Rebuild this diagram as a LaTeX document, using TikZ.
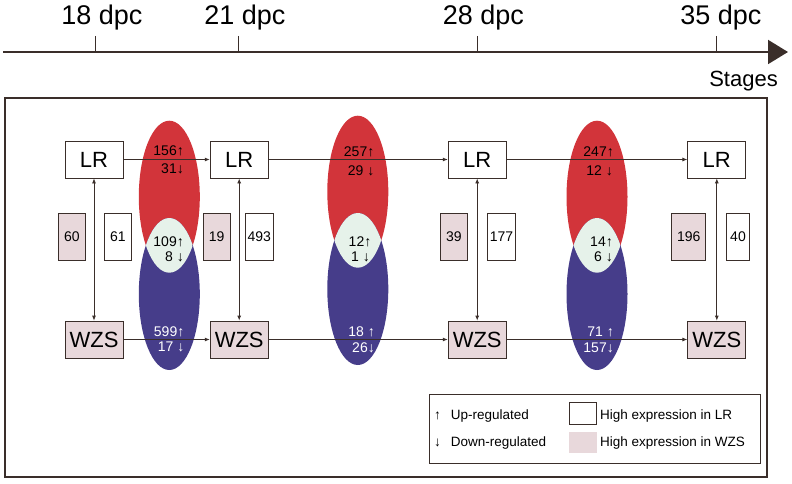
\documentclass[tikz,border=0pt]{standalone}
\usepackage{fontspec}
\setmainfont{Liberation Sans}
\usetikzlibrary{arrows.meta}
\definecolor{lc}{HTML}{3A2E2A}
\definecolor{ered}{HTML}{D2343A}
\definecolor{eblue}{HTML}{463D8A}
\definecolor{elens}{HTML}{E6F2EA}
\definecolor{pinkc}{HTML}{E8D8DB}
\newcommand{\myfs}[1]{\fontsize{#1}{#1}\selectfont}
\begin{document}
\begin{tikzpicture}[x=1pt,y=-1pt,
  stagebox/.style={draw=lc, line width=0.8pt, minimum width=58pt, minimum height=37pt, inner sep=0pt, font=\myfs{22}},
  lrbox/.style={stagebox, fill=white},
  wzsbox/.style={stagebox, fill=pinkc},
  numbox/.style={draw=lc, line width=0.8pt, minimum height=47pt, inner sep=0pt, font=\myfs{14}},
  lrnum/.style={numbox, fill=white},
  wzsnum/.style={numbox, fill=pinkc},
  link/.style={draw=lc, line width=0.8pt, -{Latex[length=5pt,width=4pt]}},
  biline/.style={draw=lc, line width=0.8pt, {Latex[length=5pt,width=4pt]}-{Latex[length=5pt,width=4pt]}},
  cnt/.style={anchor=base east, inner sep=0pt, font=\myfs{14}},
  cntw/.style={cnt, text=white},
  tick/.style={draw=lc, line width=1.3pt},
  dpc/.style={anchor=base, inner sep=0pt, font=\myfs{27}},
  legtxt/.style={anchor=base west, inner sep=0pt, font=\myfs{13.5}},
  ell/.style={x radius=30.5pt, y radius=76pt}
]
\useasboundingbox (0,0) rectangle (792,484);

% timeline
\coordinate (ax0) at (3,52);
\coordinate (ax1) at (788,52);
\draw[draw=lc, line width=2pt, -{Triangle[length=20pt,width=24pt]}] (ax0) -- (ax1);
\foreach \x in {95.3,238.7,477.3,716.7} \draw[tick] (\x,36) -- (\x,52);
\node[dpc] (d18) at (102,25) {18 dpc};
\node[dpc] (d21) at (245,25) {21 dpc};
\node[dpc] (d28) at (483.3,25) {28 dpc};
\node[dpc] (d35) at (720.8,25) {35 dpc};
\node[anchor=base east, inner sep=0pt, font=\myfs{22}] (stg) at (778,87) {Stages};

% outer frame
\draw[draw=lc, line width=2pt] (5,98.3) rectangle (767,476.7);

% ellipses
\foreach \cx/\ry/\by in {169.3/196.7/294, 357.8/191.7/289, 597/196.7/294} {
  \fill[ered] (\cx,\ry) ellipse [ell];
  \fill[eblue] (\cx,\by) ellipse [ell];
  \begin{scope}
    \clip (\cx,\ry) ellipse [ell];
    \fill[elens] (\cx,\by) ellipse [ell];
  \end{scope}
}

% stage boxes
\node[lrbox] (LR1) at (94,159.5) {LR};
\node[lrbox] (LR2) at (239.2,159.5) {LR};
\node[lrbox] (LR3) at (477.2,159.5) {LR};
\node[lrbox] (LR4) at (716.8,159.5) {LR};
\node[wzsbox] (W1) at (94,339.5) {WZS};
\node[wzsbox] (W2) at (239.2,339.5) {WZS};
\node[wzsbox] (W3) at (477.2,339.5) {WZS};
\node[wzsbox] (W4) at (716.8,339.5) {WZS};

% connectors
\draw[link] (LR1) -- (LR2);
\draw[link] (LR2) -- (LR3);
\draw[link] (LR3) -- (LR4);
\draw[link] (W1) -- (W2);
\draw[link] (W2) -- (W3);
\draw[link] (W3) -- (W4);
\draw[biline] (LR1) -- (W1);
\draw[biline] (LR2) -- (W2);
\draw[biline] (LR3) -- (W3);
\draw[biline] (LR4) -- (W4);

% counts in ellipses
\node[cnt] (a1) at (184,155) {156↑};
\node[cnt] (a2) at (184,173.8) {31↓};
\node[cnt] (a3) at (184,246) {109↑};
\node[cnt] (a4) at (184,261.7) {8 ↓};
\node[cntw] (a5) at (184.5,336.7) {599↑};
\node[cntw] (a6) at (184.5,351.7) {17 ↓};

\node[cnt] (b1) at (374.5,156.7) {257↑};
\node[cnt] (b2) at (374.5,175) {29 ↓};
\node[cnt] (b3) at (371.5,246.7) {12↑};
\node[cnt] (b4) at (370,261.7) {1 ↓};
\node[cntw] (b5) at (375,336.7) {18 ↑};
\node[cntw] (b6) at (375,352) {26↓};

\node[cnt] (c1) at (614,156.7) {247↑};
\node[cnt] (c2) at (613,175) {12 ↓};
\node[cnt] (c3) at (613,246.7) {14↑};
\node[cnt] (c4) at (613,261.7) {6 ↓};
\node[cntw] (c5) at (614,336.7) {71 ↑};
\node[cntw] (c6) at (614,352) {157↓};

% side number boxes
\node[wzsnum, minimum width=27.4pt] (n60) at (72,236.7) {60};
\node[lrnum, minimum width=27.4pt] (n61) at (118,236.7) {61};
\node[wzsnum, minimum width=26.7pt] (n19) at (216.7,236.7) {19};
\node[lrnum, minimum width=28.3pt] (n493) at (259.2,236.7) {493};
\node[wzsnum, minimum width=27.7pt] (n39) at (453.8,236.7) {39};
\node[lrnum, minimum width=28.4pt] (n177) at (501.5,236.7) {177};
\node[wzsnum, minimum width=34pt] (n196) at (688.7,236.7) {196};
\node[lrnum, minimum width=22.6pt] (n40) at (738,236.7) {40};

% legend
\draw[draw=lc, line width=0.9pt] (429.3,394) rectangle (760,463.3);
\node[anchor=base, inner sep=0pt, font=\myfs{13.5}] (lu) at (437.5,419) {↑};
\node[legtxt] (lut) at (450.7,419) {Up-regulated};
\node[anchor=base, inner sep=0pt, font=\myfs{13.5}] (ld) at (437.5,446) {↓};
\node[legtxt] (ldt) at (450.7,446) {Down-regulated};
\node[draw=lc, line width=0.9pt, fill=white, minimum width=27.4pt, minimum height=22pt, inner sep=0pt] (sqw) at (583,413.3) {};
\node[fill=pinkc, minimum width=27.4pt, minimum height=21pt, inner sep=0pt] (sqp) at (583,442.8) {};
\node[legtxt] (llr) at (600,419) {High expression in LR};
\node[legtxt] (lwz) at (600,446) {High expression in WZS};
\end{tikzpicture}
\end{document}
